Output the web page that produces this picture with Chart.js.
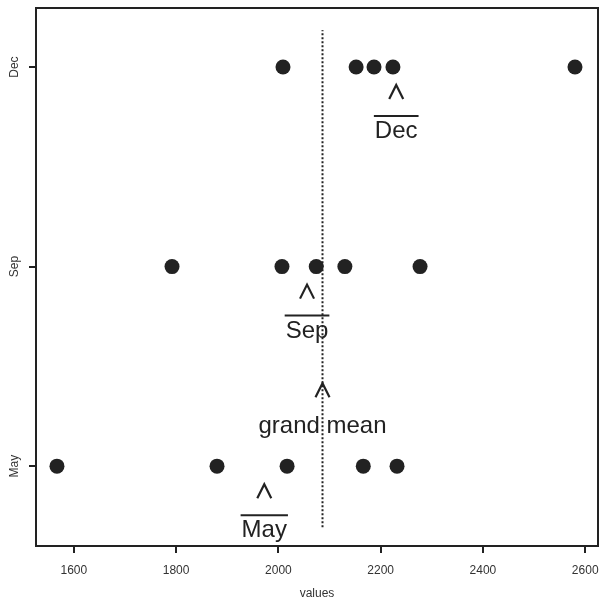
<!DOCTYPE html>
<html>
<head>
<meta charset="utf-8">
<script src="https://cdn.jsdelivr.net/npm/chart.js@4"></script>
<style>
  html, body { margin: 0; padding: 0; background: #fff; }
  #wrap { width: 600px; height: 603px; }
</style>
</head>
<body>
<div id="wrap"><canvas id="chart" width="600" height="603"></canvas></div>
<script>
// groups, bottom to top
const groups = ['May', 'Sep', 'Dec'];
const mayValues = [1567, 1880, 2017, 2166, 2232];
const sepValues = [1792, 2007, 2074, 2130, 2277];
const decValues = [2009, 2152, 2187, 2224, 2580];
const xTicks = [1600, 1800, 2000, 2200, 2400, 2600];

const seriesByGroup = [mayValues, sepValues, decValues];
const mean = a => a.reduce((s, v) => s + v, 0) / a.length;
const groupMeans = seriesByGroup.map(mean);
const grandMean = mean(seriesByGroup.flat());

const INK = '#222222';

const points = [];
seriesByGroup.forEach((vals, i) => vals.forEach(v => points.push({ x: v, y: i + 1 })));

// frame, rotated y labels, mean markers
const annotate = {
  id: 'annotate',
  afterDraw(chart) {
    const { ctx, chartArea: a, scales: { x, y } } = chart;
    ctx.save();
    ctx.strokeStyle = INK;
    ctx.lineWidth = 2;
    ctx.strokeRect(a.left, a.top, a.right - a.left, a.bottom - a.top);

    // y labels, vertical
    ctx.fillStyle = '#333';
    ctx.font = '12px "Liberation Sans", Arial, sans-serif';
    ctx.textAlign = 'center';
    ctx.textBaseline = 'middle';
    groups.forEach((g, i) => {
      ctx.save();
      ctx.translate(15, y.getPixelForValue(i + 1));
      ctx.rotate(-Math.PI / 2);
      ctx.fillText(g, 0, 0);
      ctx.restore();
    });

    const caret = (cx, cy) => {
      ctx.beginPath();
      ctx.moveTo(cx - 7, cy + 7);
      ctx.lineTo(cx, cy - 7);
      ctx.lineTo(cx + 7, cy + 7);
      ctx.lineWidth = 2.2;
      ctx.stroke();
    };

    ctx.font = '24px "Liberation Sans", Arial, sans-serif';
    ctx.fillStyle = INK;
    ctx.textBaseline = 'alphabetic';
    groups.forEach((g, i) => {
      const cx = x.getPixelForValue(groupMeans[i]);
      const cy = y.getPixelForValue(i + 1);
      caret(cx, cy + 25);
      const w = ctx.measureText(g).width;
      ctx.beginPath();
      ctx.moveTo(cx - w / 2 - 1, cy + 49);
      ctx.lineTo(cx + w / 2 + 1, cy + 49);
      ctx.lineWidth = 2;
      ctx.stroke();
      ctx.fillText(g, cx, cy + 71);
    });

    const gx = x.getPixelForValue(grandMean);
    const gy = y.getPixelForValue(1);
    caret(gx, gy - 76);
    ctx.fillText('grand mean', gx, gy - 33);
    ctx.restore();
  }
};

new Chart(document.getElementById('chart'), {
  type: 'scatter',
  data: {
    datasets: [
      {
        data: points,
        pointRadius: 7.5,
        pointHoverRadius: 7.5,
        backgroundColor: INK,
        borderColor: INK,
        borderWidth: 0
      },
      {
        type: 'line',
        data: [{ x: grandMean, y: 0.694 }, { x: grandMean, y: 3.185 }],
        borderColor: INK,
        borderWidth: 2,
        borderDash: [2, 2],
        pointRadius: 0
      }
    ]
  },
  plugins: [annotate],
  options: {
    responsive: false,
    animation: false,
    events: [],
    layout: { autoPadding: false, padding: { top: 8, right: 2, left: 0, bottom: 0 } },
    plugins: { legend: { display: false }, tooltip: { enabled: false } },
    scales: {
      x: {
        type: 'linear',
        min: 1526,
        max: 2625,
        afterBuildTicks: s => { s.ticks = xTicks.map(v => ({ value: v })); },
        afterFit: s => { s.height = 57; s.paddingLeft = 0; s.paddingRight = 0; },
        border: { display: false },
        grid: { drawOnChartArea: false, drawTicks: true, tickLength: 7, color: INK, lineWidth: 2 },
        ticks: {
          color: '#333',
          padding: 10,
          callback: v => String(v),
          font: { family: '"Liberation Sans", Arial, sans-serif', size: 12 }
        },
        title: {
          display: true,
          text: 'values',
          color: '#333',
          padding: { top: 0, bottom: 2 },
          font: { family: '"Liberation Sans", Arial, sans-serif', size: 12 }
        }
      },
      y: {
        type: 'linear',
        min: 0.6,
        max: 3.296,
        afterBuildTicks: s => { s.ticks = groups.map((g, i) => ({ value: i + 1 })); },
        afterFit: s => { s.width = 36; s.paddingTop = 0; s.paddingBottom = 0; },
        border: { display: false },
        grid: { drawOnChartArea: false, drawTicks: true, tickLength: 7, color: INK, lineWidth: 2 },
        ticks: { display: false }
      }
    }
  }
});
</script>
</body>
</html>
